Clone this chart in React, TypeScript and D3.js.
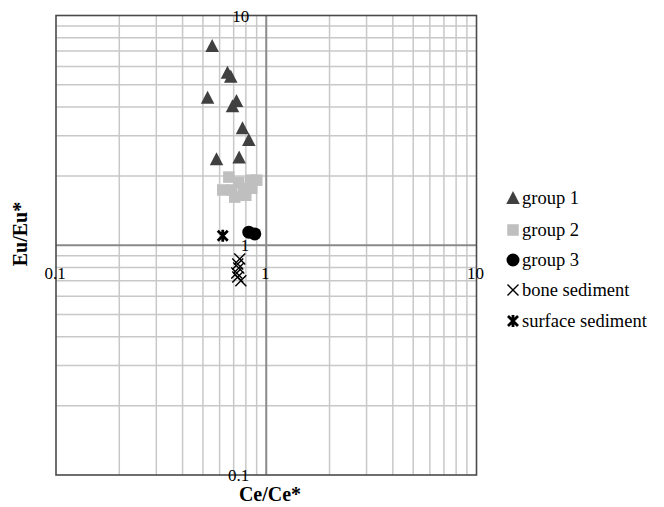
import React from "react";
import * as d3 from "d3";

const group1X = [0.553, 0.654, 0.678, 0.526, 0.722, 0.691, 0.771, 0.826, 0.58, 0.743];
const group1Y = [7.36, 5.63, 5.41, 4.38, 4.24, 4.03, 3.23, 2.87, 2.37, 2.41];

const group2X = [0.664, 0.74, 0.844, 0.901, 0.621, 0.686, 0.782, 0.853, 0.708, 0.799];
const group2Y = [1.98, 1.88, 1.92, 1.92, 1.74, 1.74, 1.77, 1.77, 1.62, 1.65];

const group3X = [0.826, 0.882];
const group3Y = [1.14, 1.12];

const boneX = [0.748, 0.732, 0.74, 0.724, 0.732, 0.757];
const boneY = [0.872, 0.829, 0.797, 0.758, 0.728, 0.7];

const surfaceX = [0.621];
const surfaceY = [1.1];

const majorTicks = [0.1, 1, 10];
const tickLabels = ["0.1", "1", "10"];
const legendLabels = ["group 1", "group 2", "group 3", "bone sediment", "surface sediment"];

const W = 664;
const H = 507;
const L = 56, R = 476.5, T = 15.5, B = 475;

const FONT = '"Liberation Serif", "Times New Roman", Times, "DejaVu Serif", serif';

function Marker({ kind, x, y }: { kind: number; x: number; y: number }) {
  if (kind === 0) {
    const s = 13.5;
    const h = 12;
    return (
      <path
        d={`M${x},${y - h / 2 - 1}L${x + s / 2},${y + h / 2}L${x - s / 2},${y + h / 2}Z`}
        fill="#404040"
      />
    );
  }
  if (kind === 1) {
    const s = 11.5;
    return <rect x={x - s / 2} y={y - s / 2} width={s} height={s} fill="#bfbfbf" />;
  }
  if (kind === 2) {
    return <circle cx={x} cy={y} r={6.5} fill="#000" />;
  }
  if (kind === 3) {
    const s = 5.5;
    return (
      <path
        d={`M${x - s},${y - s}L${x + s},${y + s}M${x - s},${y + s}L${x + s},${y - s}`}
        stroke="#000"
        strokeWidth={1.4}
        fill="none"
      />
    );
  }
  const s = 5;
  return (
    <path
      d={`M${x - s},${y - s}L${x + s},${y + s}M${x - s},${y + s}L${x + s},${y - s}M${x},${y - 6}L${x},${y + 6}`}
      stroke="#000"
      strokeWidth={2.8}
      fill="none"
    />
  );
}

export default function App() {
  const x = d3.scaleLog().domain([0.1, 10]).range([L, R]);
  const y = d3.scaleLog().domain([0.1, 10]).range([B, T]);

  const minor: number[] = [];
  [0.1, 1].forEach((d) => {
    for (let k = 2; k <= 9; k++) minor.push(+(k * d).toFixed(3));
  });

  const series = [
    { xs: group1X, ys: group1Y },
    { xs: group2X, ys: group2Y },
    { xs: group3X, ys: group3Y },
    { xs: boneX, ys: boneY },
    { xs: surfaceX, ys: surfaceY },
  ];

  const legendY = [198, 230, 260, 290, 321];
  const ts = { fontFamily: FONT };

  return (
    <svg width={W} height={H} style={{ position: "absolute", left: 0, top: 0 }}>
      <rect x={0} y={0} width={W} height={H} fill="#fff" />
      {minor.map((v) => (
        <line key={"v" + v} x1={x(v)} x2={x(v)} y1={T} y2={B} stroke="#c8c8c8" strokeWidth={1.5} />
      ))}
      {minor.map((v) => (
        <line key={"h" + v} x1={L} x2={R} y1={y(v)} y2={y(v)} stroke="#c8c8c8" strokeWidth={1.5} />
      ))}
      <line x1={x(1)} x2={x(1)} y1={T} y2={B} stroke="#8a8a8a" strokeWidth={2} />
      <line x1={L} x2={R} y1={y(1)} y2={y(1)} stroke="#8a8a8a" strokeWidth={2} />
      <rect x={L} y={T} width={R - L} height={B - T} fill="none" stroke="#4a4a4a" strokeWidth={1.6} />

      {majorTicks.map((v, i) => (
        <text key={"yl" + v} x={x(1) - 17} y={y(v) + 6} textAnchor="end" fontSize={17} fill="#000" style={ts}>
          {tickLabels[i]}
        </text>
      ))}
      {majorTicks.map((v, i) => (
        <text key={"xl" + v} x={x(v) - 1} y={y(1) + 34} textAnchor="middle" fontSize={17} fill="#000" style={ts}>
          {tickLabels[i]}
        </text>
      ))}

      {series.map((s, si) =>
        s.xs.map((xv, i) => <Marker key={si + "-" + i} kind={si} x={x(xv)} y={y(s.ys[i])} />)
      )}

      {legendLabels.map((lab, i) => (
        <g key={lab}>
          <Marker kind={i} x={513} y={legendY[i]} />
          <text x={522} y={legendY[i] + 6} fontSize={18.5} fill="#000" style={ts}>
            {lab}
          </text>
        </g>
      ))}

      <text x={270} y={501} textAnchor="middle" fontSize={20} fontWeight="bold" fill="#000" style={ts}>
        Ce/Ce*
      </text>
      <text
        transform={`translate(27,234) rotate(-90)`}
        textAnchor="middle"
        fontSize={20}
        fontWeight="bold"
        fill="#000"
        style={ts}
      >
        Eu/Eu*
      </text>
    </svg>
  );
}
